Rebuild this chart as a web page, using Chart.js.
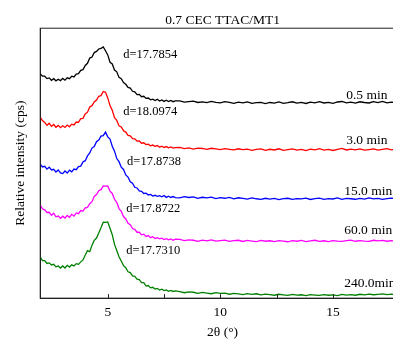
<!DOCTYPE html>
<html>
<head>
<meta charset="utf-8">
<script src="https://cdn.jsdelivr.net/npm/chart.js@4/dist/chart.umd.min.js"></script>
<style>
  html, body { margin: 0; padding: 0; overflow: hidden; background: #fff; }
  #xrd { display: block; }
</style>
</head>
<body>
<canvas id="xrd" width="411" height="341"></canvas>
<script>
// 2theta grid (deg): 0.1 steps through the basal peak, 0.2 steps on the flat tail
const twoTheta = [
  2.0,2.1,2.2,2.3,2.4,2.5,2.6,2.7,2.8,2.9,
  3.0,3.1,3.2,3.3,3.4,3.5,3.6,3.7,3.8,3.9,
  4.0,4.1,4.2,4.3,4.4,4.5,4.6,4.7,4.8,4.9,
  5.0,5.1,5.2,5.3,5.4,5.5,5.6,5.7,5.8,5.9,
  6.0,6.1,6.2,6.3,6.4,6.5,6.6,6.7,6.8,6.9,
  7.0,7.1,7.2,7.3,7.4,7.5,7.6,7.7,7.8,7.9,
  8.0,
  8.2,8.4,8.6,8.8,9.0,9.2,9.4,9.6,9.8,10.0,
  10.2,10.4,10.6,10.8,11.0,11.2,11.4,11.6,11.8,12.0,
  12.2,12.4,12.6,12.8,13.0,13.2,13.4,13.6,13.8,14.0,
  14.2,14.4,14.6,14.8,15.0,15.2,15.4,15.6,15.8,16.0,
  16.2,16.4,16.6,16.8,17.0,17.2,17.4,17.6,17.8,18.0
];

// stacked intensities (offset patterns), one array per reaction time
const min0_5 = [
  224.5,222.1,222.0,219.6,220.3,217.9,219.5,217.4,219.0,217.6,
  219.8,218.0,220.4,219.5,222.0,221.3,224.2,224.6,227.9,228.6,
  232.7,234.9,240.1,241.2,245.6,246.8,249.2,249.9,251.3,247.5,
  243.3,235.9,234.2,228.1,226.4,220.8,219.5,215.6,213.9,210.7,
  210.1,206.9,206.3,203.6,203.8,201.5,201.9,199.8,200.2,198.4,
  199.0,197.7,198.9,197.1,198.3,196.8,197.9,196.6,197.8,196.5,
  197.4,
  197.3,196.1,196.6,197.0,195.7,196.4,195.6,196.8,195.9,195.3,
  196.5,195.8,194.9,196.0,195.4,196.3,194.8,195.6,195.9,194.6,
  195.7,195.1,196.2,194.9,195.5,196.4,195.0,195.8,194.7,196.1,
  195.4,196.6,195.2,195.9,194.9,196.2,196.7,195.3,196.0,195.1,
  196.4,195.7,195.2,196.5,195.6,196.8,195.4,196.1,195.5,196.3
];
const min3_0 = [
  181.0,177.6,175.8,172.9,174.9,171.8,173.7,170.9,172.8,170.5,
  172.4,170.7,173.1,171.4,174.0,173.3,176.2,175.9,179.5,179.8,
  184.3,186.0,191.2,192.5,196.3,198.1,201.9,202.6,206.7,205.9,
  200.3,192.6,187.9,180.4,177.8,172.3,171.2,167.5,166.1,162.8,
  162.3,159.5,159.3,157.1,157.2,155.0,155.4,153.6,154.0,152.3,
  153.1,151.8,152.6,151.0,152.0,150.7,151.6,150.3,151.2,150.0,
  150.6,
  150.8,149.6,150.3,149.0,150.1,149.7,148.8,149.9,149.2,148.5,
  149.6,148.9,148.3,149.4,148.6,149.1,147.9,148.8,149.3,147.8,
  148.9,148.2,149.4,147.9,148.6,149.3,148.0,148.8,147.6,149.0,
  148.4,149.5,148.1,148.7,147.7,148.9,149.7,148.2,149.0,148.3,
  149.2,148.0,148.6,149.3,148.1,148.8,149.5,148.4,149.1,148.6
];
const min15_0 = [
  134.1,131.2,131.9,129.0,131.0,128.2,128.9,126.1,128.2,125.3,
  124.6,127.2,125.1,128.0,126.3,129.1,128.5,131.5,132.0,136.2,
  137.5,142.3,145.2,150.1,151.6,156.5,158.2,162.0,162.5,166.0,
  161.3,159.1,151.9,147.0,139.6,136.5,131.0,128.7,123.2,121.1,
  116.4,114.9,110.9,110.2,107.2,106.9,104.7,105.0,103.2,103.8,
  102.1,102.9,101.8,102.5,101.4,102.7,100.8,101.9,100.7,101.6,
  100.5,
  100.2,101.5,100.7,101.2,99.8,100.9,100.3,101.0,99.6,100.5,
  99.9,100.8,99.3,100.4,99.8,99.1,100.2,99.4,98.8,99.9,
  99.0,99.7,98.6,99.5,99.9,98.8,99.6,99.2,100.0,98.7,
  99.5,100.1,98.9,99.6,99.2,100.3,98.8,99.7,99.4,98.9,
  99.8,99.1,100.2,99.3,99.7,98.8,99.6,100.1,99.2,99.7
];
const min60_0 = [
  93.0,89.4,88.3,85.7,85.9,82.9,85.0,81.4,82.1,79.9,
  82.0,80.1,82.7,80.9,83.8,82.0,85.2,84.5,87.6,87.1,
  90.3,90.8,94.5,96.5,101.8,103.6,107.5,108.5,112.2,112.1,
  112.3,107.1,104.7,98.9,95.8,89.6,86.9,81.6,79.2,74.9,
  73.5,69.6,68.8,65.9,65.9,63.3,64.0,61.7,62.6,60.5,
  61.5,59.7,60.4,59.3,60.0,58.6,59.5,58.3,59.2,57.8,
  58.9,
  58.7,57.5,58.2,57.9,56.9,58.0,57.3,58.3,57.0,57.6,
  58.1,56.8,57.5,57.9,56.7,57.7,57.1,56.6,57.8,56.9,
  57.4,56.5,57.6,57.1,56.4,57.5,56.9,57.8,56.6,57.2,
  57.9,56.8,57.4,56.5,57.6,57.0,56.7,57.5,58.0,56.9,
  57.6,57.1,56.8,57.9,57.2,57.7,56.9,57.5,56.8,57.6
];
const min240_0 = [
  41.3,37.5,37.6,34.7,35.3,33.2,33.9,31.3,32.1,30.1,
  32.2,30.2,32.8,31.1,33.3,32.3,34.5,33.8,36.3,38.2,
  43.1,47.5,46.5,53.0,57.8,60.1,65.2,70.3,75.9,75.7,
  76.2,69.9,63.5,53.8,47.6,41.4,37.1,32.5,30.5,26.4,
  25.6,22.3,21.9,18.9,18.6,15.5,15.5,12.1,12.6,10.3,
  10.9,9.1,9.8,8.1,8.9,7.5,8.3,6.9,7.8,6.7,
  7.3,
  6.6,5.4,6.3,5.9,4.8,5.7,5.0,4.4,5.5,4.7,
  5.1,3.9,4.8,4.3,3.6,4.6,3.8,4.4,3.2,4.0,
  3.5,2.9,3.9,3.3,2.8,3.7,3.0,3.4,2.6,3.5,
  3.1,2.7,3.6,2.9,3.3,2.6,3.8,3.1,3.5,2.9,
  3.9,3.3,4.1,3.4,3.8,4.3,3.5,4.0,3.6,4.2
];

const timeLabels = ['0.5 min', '3.0 min', '15.0 min', '60.0 min', '240.0min'];
const dSpacing = ['d=17.7854', 'd=18.0974', 'd=17.8738', 'd=17.8722', 'd=17.7310'];
const series = [min0_5, min3_0, min15_0, min60_0, min240_0];
const colors = ['#000000', '#ff0000', '#0000ff', '#ff00ff', '#008000'];

// where the annotations sit, in axis units (2theta, stacked intensity)
const dSpots = [[5.69, 240], [5.69, 183.5], [5.86, 133], [5.82, 86.3], [5.82, 44]];
const timeSpots = [[15.59, 199], [15.59, 153.7], [15.5, 103], [15.5, 64], [15.5, 11.3]];

const serif = "'Liberation Serif', 'Times New Roman', serif";

const frame = {
  id: 'frame',
  afterDatasetsDraw(chart) {
    const { ctx, chartArea: a, scales: { x, y } } = chart;
    ctx.save();
    ctx.strokeStyle = '#222';
    ctx.lineWidth = 1;
    ctx.strokeRect(a.left, a.top, a.right - a.left, a.bottom - a.top);

    // inward tick marks every 2.5 deg
    ctx.beginPath();
    x.ticks.forEach(t => {
      if (t.value % 2.5 === 0 && t.value > x.min && t.value < x.max) {
        const px = Math.round(x.getPixelForValue(t.value)) + 0.5;
        ctx.moveTo(px, a.bottom);
        ctx.lineTo(px, a.bottom - 4);
      }
    });
    ctx.stroke();

    ctx.fillStyle = '#000';
    ctx.textBaseline = 'alphabetic';
    ctx.textAlign = 'left';
    ctx.font = '12.5px ' + serif;
    dSpacing.forEach((txt, i) => {
      ctx.fillText(txt, x.getPixelForValue(dSpots[i][0]), y.getPixelForValue(dSpots[i][1]));
    });
    ctx.font = '13.5px ' + serif;
    timeLabels.forEach((txt, i) => {
      ctx.fillText(txt, x.getPixelForValue(timeSpots[i][0]), y.getPixelForValue(timeSpots[i][1]));
    });
    ctx.restore();
  }
};

new Chart(document.getElementById('xrd'), {
  type: 'line',
  data: {
    datasets: series.map((vals, i) => ({
      label: timeLabels[i],
      data: twoTheta.map((t, j) => ({ x: t, y: vals[j] })),
      borderColor: colors[i],
      borderWidth: 1.3,
      pointRadius: 0,
      tension: 0,
      fill: false
    }))
  },
  options: {
    responsive: false,
    animation: false,
    devicePixelRatio: 1,
    layout: { padding: { left: 8, right: 3, top: 0, bottom: 0 } },
    plugins: {
      legend: { display: false },
      tooltip: { enabled: false },
      title: {
        display: true,
        fullSize: false,
        text: '0.7 CEC TTAC/MT1',
        color: '#000',
        font: { family: serif, size: 13.5, weight: 'normal', lineHeight: 1.2 },
        padding: { top: 12, bottom: 0 }
      }
    },
    scales: {
      x: {
        type: 'linear',
        min: 2,
        max: 18.2,
        grid: { display: false, drawTicks: false },
        border: { display: true, color: '#222', width: 1 },
        ticks: {
          stepSize: 2.5,
          autoSkip: false,
          maxRotation: 0,
          padding: 6,
          color: '#000',
          font: { family: serif, size: 13.5, lineHeight: 1.2 },
          callback: v => (v % 5 === 0 ? String(v) : '')
        },
        title: {
          display: true,
          text: '2θ (°)',
          color: '#000',
          font: { family: serif, size: 13.5, lineHeight: 0.9 },
          padding: { top: 0, bottom: 2.5 }
        }
      },
      y: {
        min: 0,
        max: 270,
        grid: { display: false, drawTicks: false },
        border: { display: true, color: '#222', width: 1 },
        ticks: { display: false },
        title: {
          display: true,
          text: 'Relative intensity (cps)',
          color: '#000',
          font: { family: serif, size: 13.5, lineHeight: 1.2 },
          padding: { top: 4, bottom: 12 }
        }
      }
    }
  },
  plugins: [frame]
});
</script>
</body>
</html>
